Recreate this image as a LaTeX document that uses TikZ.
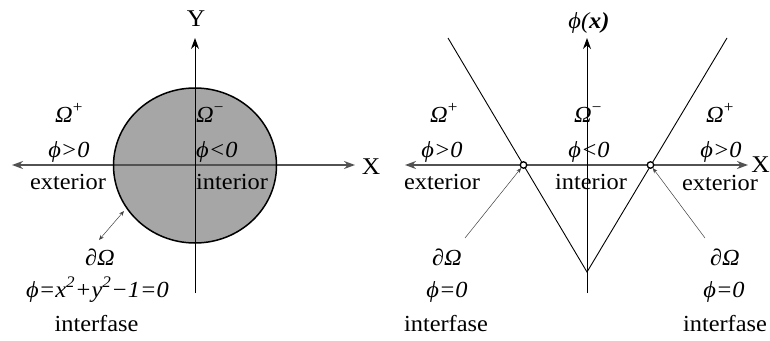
\documentclass[tikz,border=0pt]{standalone}
\usepackage{fontspec}
\setmainfont{Liberation Serif}[FakeStretch=1.06]
\usetikzlibrary{arrows.meta}
\begin{document}
\begin{tikzpicture}[x=1pt,y=-1pt,
  lbl/.style={font=\fontsize{23}{27}\selectfont, inner sep=0pt, anchor=base},
  axlbl/.style={lbl, font=\fontsize{24}{28}\selectfont},
  axisx/.style={draw=black!68, line width=1.6pt, {Stealth[length=11pt,width=8pt]}-{Stealth[length=11pt,width=8pt]}},
  axisy/.style={draw=black, line width=0.9pt, -{Stealth[length=11pt,width=8pt]}},
  pointer/.style={draw=black!75, line width=0.5pt, -{Stealth[length=5pt,width=4pt]}},
  dot/.style={circle, draw=black, fill=white, line width=1.3pt, minimum size=6.5pt, inner sep=0pt}]
\useasboundingbox (0,0) rectangle (770,340);
% ---------- left panel ----------
\fill[black!35] (195,165.5) ellipse [x radius=81.5, y radius=77.5];
\coordinate (xl1) at (12,165);
\coordinate (xr1) at (355,165);
\coordinate (yb1) at (195,293);
\coordinate (yt1) at (195,38);
\draw[axisx] (xl1) -- (xr1);
\draw[axisy] (yb1) -- (yt1);
\draw[black, line width=1.5pt] (195,165.5) ellipse [x radius=81.5, y radius=77.5];
\node[axlbl] (Y) at (196,27) {Y};
\node[axlbl] (X) at (371,174) {X};
\node[lbl] (om1) at (69,122) {{\itshape Ω}\textsuperscript{+}};
\node[lbl] (ph1) at (69,157) {\itshape ϕ>0};
\node[lbl] (ex1) at (68,189) {exterior};
\node[lbl, anchor=base west] (om2) at (196,122) {{\itshape Ω}\textsuperscript{−}};
\node[lbl, anchor=base west] (ph2) at (196,157) {\itshape ϕ<0};
\node[lbl, anchor=base west] (in2) at (196,189) {interior};
\node[lbl] (dO1) at (100,265) {∂{\itshape Ω}};
\node[lbl] (eq1) at (97.5,297) {\itshape ϕ=x\textsuperscript{2}+y\textsuperscript{2}−1=0};
\node[lbl] (if1) at (96.5,331) {interfase};
\coordinate (da1) at (124,211);
\coordinate (da2) at (99,240);
\draw[draw=black!75, line width=0.5pt, {Stealth[length=5pt,width=4pt]}-{Stealth[length=5pt,width=4pt]}] (da1) -- (da2);
% ---------- right panel ----------
\coordinate (xl2) at (405,165);
\coordinate (xr2) at (748,165);
\coordinate (yb2) at (587,293);
\coordinate (yt2) at (587,38);
\coordinate (vl) at (448,38);
\coordinate (vr) at (727,38);
\coordinate (v0) at (587,272);
\draw[axisx] (xl2) -- (xr2);
\draw[axisy] (yb2) -- (yt2);
\draw[black, line width=0.9pt] (vl) -- (v0) -- (vr);
\node[dot] (p1) at (523.5,165) {};
\node[dot] (p2) at (650.5,165) {};
\node[lbl] (phx) at (589,28) {\itshape ϕ(\bfseries x)};
\node[axlbl, anchor=base east] (X2) at (770,172) {X};
\node[lbl] (om3) at (444,122) {{\itshape Ω}\textsuperscript{+}};
\node[lbl] (ph3) at (442,157) {\itshape ϕ>0};
\node[lbl] (ex3) at (442,189) {exterior};
\node[lbl] (om4) at (588,122) {{\itshape Ω}\textsuperscript{−}};
\node[lbl] (ph4) at (589,157) {\itshape ϕ<0};
\node[lbl] (in4) at (591,189) {interior};
\node[lbl] (om5) at (720,122) {{\itshape Ω}\textsuperscript{+}};
\node[lbl] (ph5) at (721,157) {\itshape ϕ>0};
\node[lbl] (ex5) at (720,190) {exterior};
\node[lbl] (dO3) at (447,265) {∂{\itshape Ω}};
\node[lbl] (eq3) at (447,297) {\itshape ϕ=0};
\node[lbl] (if3) at (446,331) {interfase};
\node[lbl] (dO5) at (725,265) {∂{\itshape Ω}};
\node[lbl] (eq5) at (724,297) {\itshape ϕ=0};
\node[lbl] (if5) at (725,331) {interfase};
\coordinate (a1) at (465,238);
\coordinate (a2) at (705,238);
\draw[pointer] (a1) -- (p1);
\draw[pointer] (a2) -- (p2);
\end{tikzpicture}
\end{document}
